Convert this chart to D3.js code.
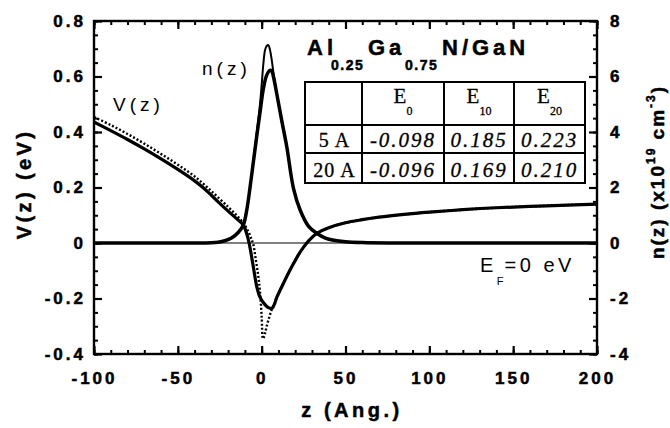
<!DOCTYPE html>
<html>
<head>
<meta charset="utf-8">
<script src="https://cdn.jsdelivr.net/npm/d3@7"></script>
<style>
body { margin: 0; background: #fff; }
svg text { font-family: "Liberation Sans", Arial, sans-serif; fill: #000; }
.heavy { stroke: #000; stroke-width: 0.5px; }
</style>
</head>
<body>
<svg id="chart" width="670" height="428"></svg>
<script>
var width = 670, height = 428;

// tick values
var xMajor = [-100, -50, 0, 50, 100, 150, 200];
var vMajor = [-0.4, -0.2, 0, 0.2, 0.4, 0.6, 0.8];
var nMajor = [-4, -2, 0, 2, 4, 6, 8];

// potential V(z), eV  (thick solid curve)
var zV20 = [-100, -90, -80, -70, -60, -50, -40, -35, -30, -25, -20, -15, -11, -9, -7.5, -5, -3, -1, 2, 4, 6, 7.5, 9, 13, 16, 19, 22, 25, 28, 33, 40, 50, 60, 70, 85, 100, 120, 140, 170, 200];
var v20 = [0.436, 0.405, 0.373, 0.339, 0.303, 0.265, 0.224, 0.200, 0.172, 0.143, 0.115, 0.088, 0.065, 0.035, 0.0, -0.085, -0.155, -0.195, -0.222, -0.233, -0.236, -0.222, -0.196, -0.145, -0.108, -0.074, -0.042, -0.015, 0.008, 0.035, 0.055, 0.073, 0.084, 0.093, 0.103, 0.111, 0.120, 0.127, 0.134, 0.140];

// potential V(z), eV  (thin dotted curve)
var zV5 = [-100, -90, -80, -70, -60, -50, -40, -30, -20, -15, -11, -8, -6, -5, -3.5, -2, -1, 0, 0.8, 2, 3, 4.5, 6, 7.5, 9, 13, 16, 19, 22, 25, 28, 33, 40, 50, 60, 70, 85, 100, 120, 140, 170, 200];
var v5 = [0.454, 0.425, 0.393, 0.358, 0.321, 0.282, 0.240, 0.187, 0.130, 0.100, 0.072, 0.042, 0.012, -0.005, -0.06, -0.12, -0.175, -0.265, -0.345, -0.325, -0.300, -0.268, -0.240, -0.222, -0.196, -0.145, -0.108, -0.074, -0.042, -0.015, 0.008, 0.035, 0.055, 0.073, 0.084, 0.093, 0.103, 0.111, 0.120, 0.127, 0.134, 0.140];

// electron density n(z), 1e19 cm^-3 (thick curve)
var zN20 = [-100, -40, -30, -26, -22, -18, -14, -11, -9, -7, -5, -3, -1, 1, 3, 5, 6, 7, 9, 12, 15, 19, 23, 28, 33, 38, 43, 50, 60, 75, 200];
var n20 = [0, 0, 0.01, 0.03, 0.08, 0.18, 0.38, 0.64, 1.15, 1.97, 2.9, 3.82, 4.7, 5.55, 6.05, 6.22, 6.2, 6.0, 5.38, 4.4, 3.46, 1.96, 1.18, 0.6, 0.34, 0.18, 0.1, 0.045, 0.015, 0, 0];

// electron density n(z) (thin curve, higher peak)
var zN5 = [-100, -40, -30, -26, -22, -18, -14, -11, -9, -7, -5, -3, -1, 0, 1, 2, 3, 4, 5, 6, 7, 8, 9, 12, 15, 19, 23, 28, 33, 38, 43, 50, 60, 75, 200];
var n5 = [0, 0, 0.01, 0.03, 0.08, 0.18, 0.38, 0.64, 1.15, 1.97, 2.95, 3.95, 5.0, 5.7, 6.45, 6.95, 7.1, 7.13, 6.95, 6.6, 6.15, 5.75, 5.4, 4.4, 3.46, 1.96, 1.18, 0.6, 0.34, 0.18, 0.1, 0.045, 0.015, 0, 0];

// table
var tableCols = ["0", "10", "20"];
var tableRows = ["5 A", "20 A"];
var tableVals = [[-0.098, 0.185, 0.223], [-0.096, 0.169, 0.210]];

var svg = d3.select("#chart");

var x = d3.scaleLinear().domain([-100, 200]).range([94, 597]);
var yV = d3.scaleLinear().domain([-0.4, 0.8]).range([354, 21]);
var yN = d3.scaleLinear().domain([-4, 8]).range([354, 21]);

var xMinor = d3.range(-100, 201, 10);
var vMinor = d3.range(-8, 17).map(function(i) { return +(i * 0.05).toFixed(2); });
var nMinor = d3.range(-8, 17).map(function(i) { return i * 0.5; });

function pairs(zs, vs) {
  return zs.map(function(z, i) { return [z, vs[i]]; });
}

// zero line
svg.append("line")
  .attr("x1", x(-100)).attr("x2", x(200))
  .attr("y1", yV(0)).attr("y2", yV(0))
  .attr("stroke", "#000").attr("stroke-width", 1);

var lineN = d3.line()
  .x(function(d) { return x(d[0]); })
  .y(function(d) { return yN(d[1]); })
  .curve(d3.curveCatmullRom.alpha(0.5));

var lineV = d3.line()
  .x(function(d) { return x(d[0]); })
  .y(function(d) { return yV(d[1]); })
  .curve(d3.curveCatmullRom.alpha(0.5));

svg.append("path").datum(pairs(zN5, n5))
  .attr("d", lineN).attr("fill", "none").attr("stroke", "#000").attr("stroke-width", 2);
svg.append("path").datum(pairs(zN20, n20))
  .attr("d", lineN).attr("fill", "none").attr("stroke", "#000").attr("stroke-width", 3.5);

svg.append("path").datum(pairs(zV5, v5))
  .attr("d", lineV).attr("fill", "none").attr("stroke", "#000").attr("stroke-width", 2.4)
  .attr("stroke-dasharray", "2,2");
svg.append("path").datum(pairs(zV20, v20))
  .attr("d", lineV).attr("fill", "none").attr("stroke", "#000").attr("stroke-width", 3.2);

// axes
function styleTicks(g, w) {
  g.select(".domain").remove();
  g.selectAll(".tick line").attr("stroke-width", w);
  g.attr("font-family", "Liberation Sans, Arial, sans-serif")
   .attr("font-size", 17).attr("font-weight", "bold");
  g.selectAll("text").attr("class", "heavy").style("letter-spacing", "3px");
}

function fmt1(d) { return String(+d.toFixed(1)); }

svg.append("g").attr("transform", "translate(0,354)")
  .call(d3.axisBottom(x).tickValues(xMajor).tickSize(-8).tickPadding(18).tickFormat(fmt1))
  .call(function(g) { styleTicks(g, 2.2); });
svg.append("g").attr("transform", "translate(0,354)")
  .call(d3.axisBottom(x).tickValues(xMinor).tickSize(-4).tickFormat(""))
  .call(function(g) { styleTicks(g, 2); });
svg.append("g").attr("transform", "translate(0,21)")
  .call(d3.axisTop(x).tickValues(xMajor).tickSize(-8).tickFormat(""))
  .call(function(g) { styleTicks(g, 2.2); });
svg.append("g").attr("transform", "translate(0,21)")
  .call(d3.axisTop(x).tickValues(xMinor).tickSize(-4).tickFormat(""))
  .call(function(g) { styleTicks(g, 2); });

svg.append("g").attr("transform", "translate(94,0)")
  .call(d3.axisLeft(yV).tickValues(vMajor).tickSize(-8).tickPadding(8).tickFormat(fmt1))
  .call(function(g) { styleTicks(g, 2.2); });
svg.append("g").attr("transform", "translate(94,0)")
  .call(d3.axisLeft(yV).tickValues(vMinor).tickSize(-4).tickFormat(""))
  .call(function(g) { styleTicks(g, 2); });

svg.append("g").attr("transform", "translate(597,0)")
  .call(d3.axisRight(yN).tickValues(nMajor).tickSize(-8).tickPadding(13).tickFormat(fmt1))
  .call(function(g) { styleTicks(g, 2.2); });
svg.append("g").attr("transform", "translate(597,0)")
  .call(d3.axisRight(yN).tickValues(nMinor).tickSize(-4).tickFormat(""))
  .call(function(g) { styleTicks(g, 2); });

svg.append("rect")
  .attr("x", x(-100)).attr("y", yV(0.8))
  .attr("width", x(200) - x(-100)).attr("height", yV(-0.4) - yV(0.8))
  .attr("fill", "none").attr("stroke", "#000").attr("stroke-width", 2.4);

// axis titles
svg.append("text")
  .attr("class", "heavy")
  .attr("x", 352).attr("y", 417)
  .attr("text-anchor", "middle")
  .style("font-size", "20px").style("font-weight", "bold").style("letter-spacing", "3.5px")
  .text("z (Ang.)");

svg.append("text")
  .attr("class", "heavy")
  .attr("transform", "translate(31,184) rotate(-90)")
  .attr("text-anchor", "middle")
  .style("font-size", "20px").style("font-weight", "bold").style("letter-spacing", "3.4px")
  .text("V(z) (eV)");

var rt = svg.append("text")
  .attr("class", "heavy")
  .attr("transform", "translate(664,172) rotate(-90)")
  .attr("text-anchor", "middle")
  .style("font-size", "19px").style("font-weight", "bold").style("letter-spacing", "2px");
rt.append("tspan").text("n(z) (x10");
rt.append("tspan").attr("dy", -9).style("font-size", "12px").text("19");
rt.append("tspan").attr("dy", 9).text(" cm");
rt.append("tspan").attr("dy", -9).style("font-size", "12px").text("-3");
rt.append("tspan").attr("dy", 9).text(")");

// curve labels
svg.append("text").attr("x", 113).attr("y", 111)
  .style("font-size", "19px").style("letter-spacing", "4px").text("V(z)");
svg.append("text").attr("x", 202).attr("y", 75)
  .style("font-size", "19px").style("letter-spacing", "4px").text("n(z)");

var ef = svg.append("text").attr("x", 480).attr("y", 272)
  .style("font-size", "20px").style("letter-spacing", "3.5px");
ef.append("tspan").text("E");
ef.append("tspan").attr("dy", 13).style("font-size", "11px").style("letter-spacing", "1px").text("F");
ef.append("tspan").attr("dy", -13).text("=0 eV");

// title
function bold(xp, yp, s, size, ls) {
  svg.append("text").attr("class", "heavy").attr("x", xp).attr("y", yp)
    .style("font-size", size + "px").style("font-weight", "bold").style("letter-spacing", ls + "px")
    .text(s);
}
bold(307, 55, "Al", 22, 4);
bold(331, 70, "0.25", 14, 1.5);
bold(368, 55, "Ga", 22, 4);
bold(405, 70, "0.75", 14, 1.5);
bold(442, 55, "N/GaN", 22, 4);

// table
var colX = [305, 362, 444, 514, 585];
var rowY = [82, 125, 153, 183];
var tg = svg.append("g");
colX.forEach(function(cx) {
  tg.append("line").attr("x1", cx).attr("x2", cx).attr("y1", rowY[0]).attr("y2", rowY[3])
    .attr("stroke", "#000").attr("stroke-width", 2);
});
rowY.forEach(function(ry) {
  tg.append("line").attr("x1", colX[0] - 1).attr("x2", colX[4] + 1).attr("y1", ry).attr("y2", ry)
    .attr("stroke", "#000").attr("stroke-width", 2);
});

tableCols.forEach(function(c, i) {
  var t = tg.append("text")
    .attr("x", (colX[i + 1] + colX[i + 2]) / 2).attr("y", 103)
    .attr("text-anchor", "middle")
    .style("font-family", "Liberation Serif, Times New Roman, serif")
    .style("font-size", "21px").style("stroke", "#000").style("stroke-width", "0.3px");
  t.append("tspan").text("E");
  t.append("tspan").attr("dy", 12).style("font-size", "12px").text(c);
});

tableRows.forEach(function(r, j) {
  var base = rowY[j + 2] - 6;
  tg.append("text")
    .attr("x", (colX[0] + colX[1]) / 2 + 1).attr("y", base)
    .attr("text-anchor", "middle")
    .style("font-family", "Liberation Serif, Times New Roman, serif")
    .style("font-size", "20px").style("letter-spacing", "1px")
    .style("stroke", "#000").style("stroke-width", "0.3px")
    .text(r);
  tableVals[j].forEach(function(v, i) {
    tg.append("text")
      .attr("x", (colX[i + 1] + colX[i + 2]) / 2).attr("y", base)
      .attr("text-anchor", "middle")
      .style("font-family", "Liberation Serif, Times New Roman, serif")
      .style("font-size", "21px").style("font-style", "italic").style("letter-spacing", "2px")
      .style("stroke", "#000").style("stroke-width", "0.3px")
      .text(v.toFixed(3));
  });
});
</script>
</body>
</html>
